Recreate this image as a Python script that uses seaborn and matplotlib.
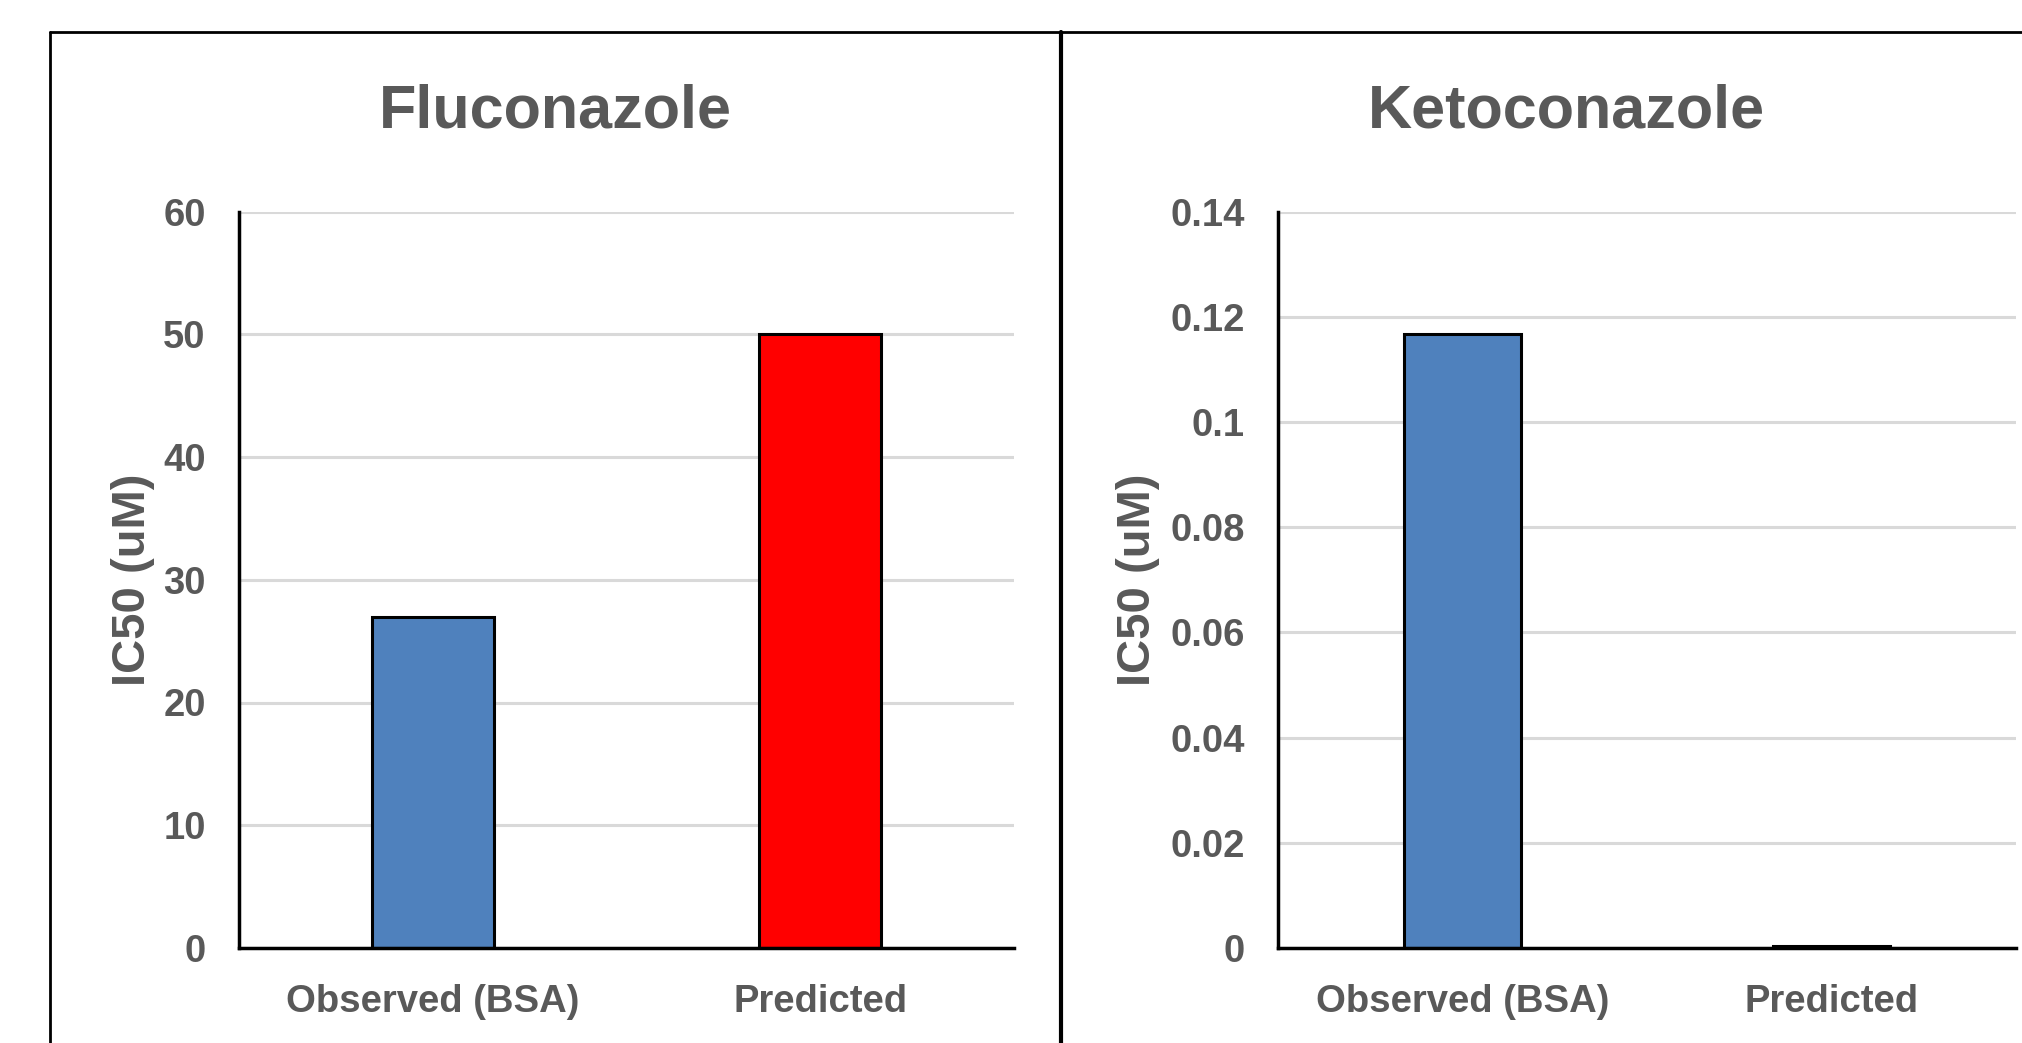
import matplotlib
matplotlib.use("Agg")
import matplotlib.pyplot as plt
import seaborn as sns
from matplotlib.lines import Line2D

# данные с картинки
categories = ["Observed (BSA)", "Predicted"]
bar_colors = ["#4f81bd", "#ff0000"]

fluconazole_vals = [27.0, 50.0]
fluconazole_ticks = [0, 10, 20, 30, 40, 50, 60]
fluconazole_ticklabels = ["0", "10", "20", "30", "40", "50", "60"]

ketoconazole_vals = [0.1167, 0.0004]
ketoconazole_ticks = [0, 0.02, 0.04, 0.06, 0.08, 0.1, 0.12, 0.14]
ketoconazole_ticklabels = ["0", "0.02", "0.04", "0.06", "0.08", "0.1", "0.12", "0.14"]

titles = ["Fluconazole", "Ketoconazole"]
ylabel = "IC50 (uM)"

sns.set_style("white")
plt.rcParams["font.family"] = ["Liberation Sans", "DejaVu Sans"]
plt.rcParams["font.weight"] = "bold"

text_color = "#595959"

fig = plt.figure(figsize=(20.22, 10.43), dpi=100)

# рамки вокруг двух графиков
W, H = 2022, 1043
def fx(px):
    return px / W
def fy(py):
    return 1 - py / H

fig.add_artist(Line2D([fx(50), fx(50)], [fy(32), 0], color="black", lw=2, transform=fig.transFigure))
fig.add_artist(Line2D([fx(50), 1], [fy(32), fy(32)], color="black", lw=2, transform=fig.transFigure))
fig.add_artist(Line2D([fx(1061), fx(1061)], [fy(32), 0], color="black", lw=3, transform=fig.transFigure))

ax1 = fig.add_axes([fx(239), fy(948), fx(1014) - fx(239), fy(211.5) - fy(948)])
ax2 = fig.add_axes([fx(1278), fy(948), fx(2016) - fx(1278), fy(211.5) - fy(948)])

panels = [
    (ax1, fluconazole_vals, fluconazole_ticks, fluconazole_ticklabels, 555, -0.108),
    (ax2, ketoconazole_vals, ketoconazole_ticks, ketoconazole_ticklabels, 1566, -0.160),
]

for i, (ax, vals, ticks, ticklabels, title_x, ylab_x) in enumerate(panels):
    sns.barplot(x=categories, y=vals, hue=categories, palette=bar_colors,
                legend=False, width=0.315, saturation=1,
                edgecolor="black", linewidth=2.2, ax=ax, zorder=3)
    ax.set_ylim(ticks[0], ticks[-1])
    ax.set_yticks(ticks)
    ax.set_yticklabels(ticklabels)
    ax.set_xlim(-0.5, 1.5)
    ax.grid(axis="y", color="#d9d9d9", lw=2.2, zorder=0)
    ax.set_axisbelow(True)
    for s in ["top", "right"]:
        ax.spines[s].set_visible(False)
    for s in ["left", "bottom"]:
        ax.spines[s].set_color("black")
        ax.spines[s].set_linewidth(2.5)
        ax.spines[s].set_zorder(4)
    ax.tick_params(axis="both", length=0, labelsize=27.5, labelcolor=text_color)
    ax.tick_params(axis="y", pad=24)
    ax.tick_params(axis="x", pad=26)
    for lab in ax.get_xticklabels() + ax.get_yticklabels():
        lab.set_fontweight("bold")
    ax.set_ylabel(ylabel, fontsize=34, fontweight="bold", color=text_color)
    ax.yaxis.set_label_coords(ylab_x, 0.5)
    ax.set_xlabel("")
    fig.text(fx(title_x), fy(112), titles[i], ha="center", va="center",
             fontsize=44, fontweight="bold", color=text_color)

fig.savefig("out.png", dpi=100)
